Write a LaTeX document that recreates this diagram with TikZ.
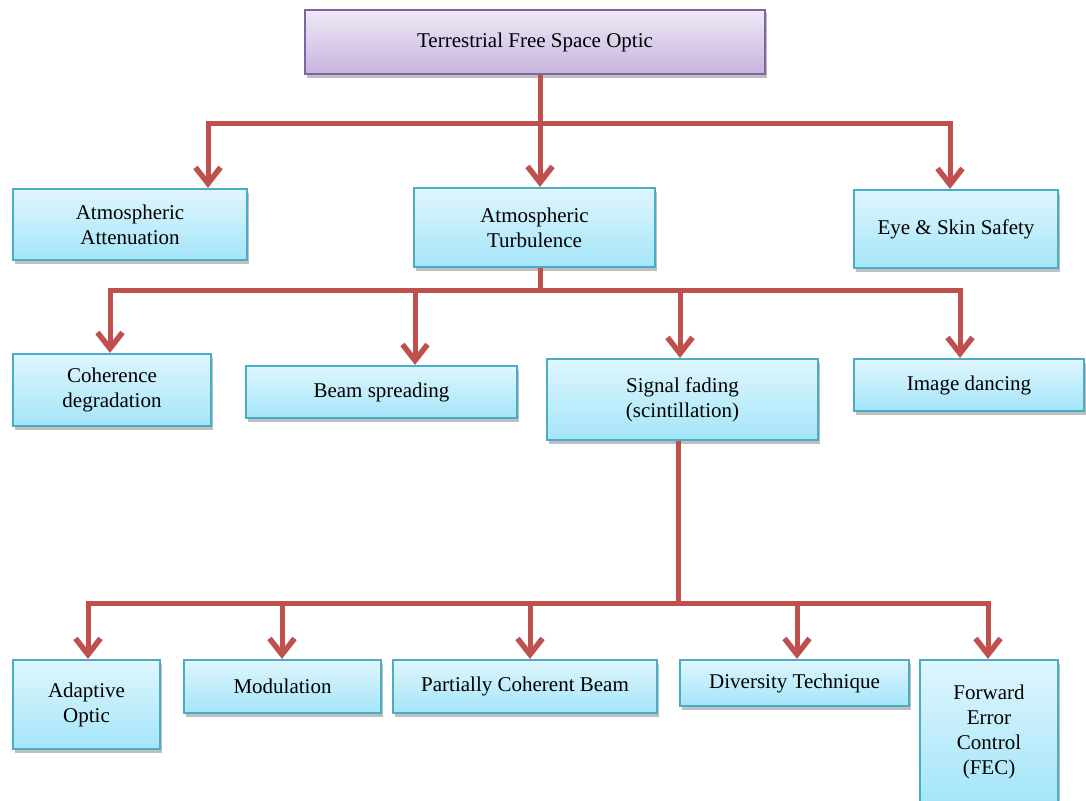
\documentclass[tikz,border=0pt]{standalone}
\usepackage{fontspec}
\setmainfont{Liberation Serif}
\usetikzlibrary{arrows.meta,shadows}
\definecolor{linered}{HTML}{C0504D}
\definecolor{cyantop}{HTML}{DFF6FD}
\definecolor{cyanbot}{HTML}{A4E5F9}
\definecolor{cyanedge}{HTML}{4BACC6}
\definecolor{purptop}{HTML}{EFE9F7}
\definecolor{purpbot}{HTML}{C6B4DD}
\definecolor{purpedge}{HTML}{8064A2}
\tikzset{
  box/.style={draw=cyanedge, line width=2.2pt, top color=cyantop, bottom color=cyanbot,
    inner sep=0pt, align=center, font=\fontsize{21}{25}\selectfont,
    drop shadow={shadow xshift=1.5pt, shadow yshift=-3.5pt, fill=black, opacity=0.25}},
  topbox/.style={box, draw=purpedge, top color=purptop, bottom color=purpbot},
  conn/.style={draw=linered, line width=5pt, line join=miter},
  tip/.style={-{Straight Barb[length=16pt,width=25pt,line width=5.5pt]}},
  tips/.style={{Straight Barb[length=16pt,width=25pt,line width=5.5pt]}-{Straight Barb[length=16pt,width=25pt,line width=5.5pt]}}
}
\begin{document}
\begin{tikzpicture}[x=1pt,y=-1pt]
\useasboundingbox (0,0) rectangle (1086,800);
% level 0
\node[topbox, minimum width=460pt, minimum height=64pt] (top) at (535,42) {Terrestrial Free Space Optic};
% level 1
\node[box, minimum width=234pt, minimum height=71pt] (attn) at (130,224.5) {Atmospheric\\Attenuation};
\node[box, minimum width=241pt, minimum height=79pt] (turb) at (534.5,227.5) {Atmospheric\\Turbulence};
\node[box, minimum width=204pt, minimum height=78pt] (eye) at (956,229) {Eye \& Skin Safety};
% level 2
\node[box, minimum width=198pt, minimum height=72pt] (coh) at (112,390) {Coherence\\degradation};
\node[box, minimum width=271pt, minimum height=52pt] (beam) at (381.5,392) {Beam spreading};
\node[box, minimum width=271pt, minimum height=81pt] (sig) at (682.5,399.5) {Signal fading\\(scintillation)};
\node[box, minimum width=230pt, minimum height=52pt] (img) at (969,385) {Image dancing};
% level 3
\node[box, minimum width=147pt, minimum height=89pt] (adapt) at (86.5,704.5) {Adaptive\\Optic};
\node[box, minimum width=197pt, minimum height=53pt] (mod) at (282.5,686.5) {Modulation};
\node[box, minimum width=264pt, minimum height=53pt] (pcb) at (525,686.5) {Partially Coherent Beam};
\node[box, minimum width=229pt, minimum height=46pt] (div) at (794.5,683) {Diversity Technique};
\node[box, minimum width=138pt, minimum height=144pt] (fec) at (989,732) {Forward\\Error\\Control\\(FEC)};
% connectors level 0 -> 1
\coordinate (a1) at (208,123);
\coordinate (a2) at (540,123);
\coordinate (a3) at (950,123);
\draw[conn, tips] (a1 |- attn.north) -- (a1) -- (a3) -- (a3 |- eye.north);
\draw[conn, tip] (top.south -| a2) -- (a2 |- turb.north);
% connectors level 1 -> 2
\coordinate (b0) at (540,290);
\coordinate (b1) at (110,290);
\coordinate (b2) at (415,290);
\coordinate (b3) at (680,290);
\coordinate (b4) at (960,290);
\draw[conn] (turb.south -| b0) -- (b0);
\draw[conn, tips] (b1 |- coh.north) -- (b1) -- (b4) -- (b4 |- img.north);
\draw[conn, tip] (b2) -- (b2 |- beam.north);
\draw[conn, tip] (b3) -- (b3 |- sig.north);
% connectors level 2 -> 3
\coordinate (c0) at (678,603);
\coordinate (c1) at (88,603);
\coordinate (c2) at (282,603);
\coordinate (c3) at (530,603);
\coordinate (c4) at (797,603);
\coordinate (c5) at (988,603);
\draw[conn] (sig.south -| c0) -- (c0);
\draw[conn, tips] (c1 |- adapt.north) -- (c1) -- (c5) -- (c5 |- fec.north);
\draw[conn, tip] (c2) -- (c2 |- mod.north);
\draw[conn, tip] (c3) -- (c3 |- pcb.north);
\draw[conn, tip] (c4) -- (c4 |- div.north);
\end{tikzpicture}
\end{document}
